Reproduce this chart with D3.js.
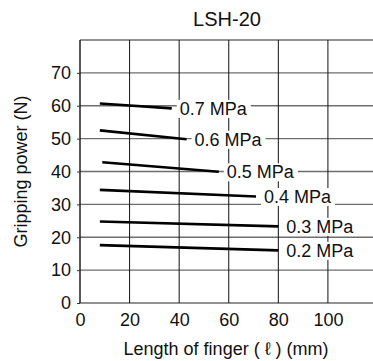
<!DOCTYPE html>
<html lang="en">
<head>
    <meta charset="UTF-8">
    <title>LSH-20 Gripping power</title>
    <script src="https://d3js.org/d3.v7.min.js"></script>
    <style>
        body {
            margin: 0;
            background: #fff;
            font-family: "Liberation Sans", Arial, sans-serif;
        }
        svg text {
            fill: #111;
        }
    </style>
</head>
<body>
    <svg width="373" height="361"></svg>

    <script>
        // pressure series
        const pressures = ["0.2 MPa", "0.3 MPa", "0.4 MPa", "0.5 MPa", "0.6 MPa", "0.7 MPa"];
        const startLength = [8, 8, 8, 9, 8, 8];
        const endLength = [80, 80, 71, 56, 43, 37];
        const startForce = [17.6, 24.8, 34.4, 42.8, 52.5, 60.7];
        const endForce = [16.0, 23.3, 32.4, 39.9, 49.8, 59.2];

        const xTicks = [0, 20, 40, 60, 80, 100];
        const yTicks = [0, 10, 20, 30, 40, 50, 60, 70];
        const yGrid = [0, 10, 20, 30, 40, 50, 60, 70, 80];

        const svg = d3.select("svg");
        const margin = {top: 40, left: 80, bottom: 303};

        const x = d3.scaleLinear().domain([0, 120]).range([margin.left, 377.5]);
        const y = d3.scaleLinear().domain([0, 80]).range([margin.bottom, margin.top]);

        // horizontal grid (grey)
        svg.append("g")
            .selectAll("line")
            .data(yGrid)
            .enter().append("line")
            .attr("x1", x(0))
            .attr("x2", 373)
            .attr("y1", d => y(d))
            .attr("y2", d => y(d))
            .attr("stroke", "#6e6e6e")
            .attr("stroke-width", 1.4);

        // vertical grid (black)
        svg.append("g")
            .selectAll("line")
            .data(xTicks)
            .enter().append("line")
            .attr("x1", d => x(d))
            .attr("x2", d => x(d))
            .attr("y1", y(80))
            .attr("y2", y(0))
            .attr("stroke", "#111")
            .attr("stroke-width", d => d === 0 ? 1.4 : 1);

        // axes (labels only)
        const yAxis = svg.append("g")
            .attr("transform", `translate(${x(0)},0)`)
            .call(d3.axisLeft(y).tickValues(yTicks).tickSize(3).tickPadding(6));
        yAxis.select(".domain").remove();
        yAxis.selectAll("line").attr("stroke", "#333");

        const xAxis = svg.append("g")
            .attr("transform", `translate(0,${y(0)})`)
            .call(d3.axisBottom(x).tickValues(xTicks).tickSize(0).tickPadding(10));
        xAxis.select(".domain").remove();

        svg.selectAll(".tick text")
            .attr("font-family", '"Liberation Sans", Arial, sans-serif')
            .attr("font-size", "18px")
            .attr("fill", "#111");

        // series
        const series = pressures.map((p, i) => ({
            label: p,
            pts: [[startLength[i], startForce[i]], [endLength[i], endForce[i]]]
        }));

        const line = d3.line().x(d => x(d[0])).y(d => y(d[1]));

        const labelG = svg.append("g");
        const labels = labelG.selectAll("g")
            .data(series)
            .enter().append("g");

        labels.append("text")
            .attr("x", d => x(d.pts[1][0]) + 8)
            .attr("y", d => y(d.pts[1][1]))
            .attr("dy", "0.36em")
            .attr("font-size", "18px")
            .text(d => d.label);

        // white boxes behind the labels hide the grid
        labels.each(function() {
            const g = d3.select(this);
            const b = g.select("text").node().getBBox();
            g.insert("rect", "text")
                .attr("x", b.x - 3)
                .attr("y", b.y + 1)
                .attr("width", b.width + 6)
                .attr("height", b.height - 2)
                .attr("fill", "#fff");
        });

        svg.append("g")
            .selectAll("path")
            .data(series)
            .enter().append("path")
            .attr("d", d => line(d.pts))
            .attr("fill", "none")
            .attr("stroke", "#000")
            .attr("stroke-width", 2.6);

        // titles
        svg.append("text")
            .attr("x", 227)
            .attr("y", 26)
            .attr("text-anchor", "middle")
            .attr("font-size", "20px")
            .text("LSH-20");

        svg.append("text")
            .attr("x", 226)
            .attr("y", 355)
            .attr("text-anchor", "middle")
            .attr("font-size", "18px")
            .text("Length of finger ( ℓ ) (mm)");

        svg.append("text")
            .attr("transform", `translate(27,${(y(0) + y(80)) / 2}) rotate(-90)`)
            .attr("text-anchor", "middle")
            .attr("font-size", "18px")
            .text("Gripping power (N)");
    </script>
</body>
</html>
